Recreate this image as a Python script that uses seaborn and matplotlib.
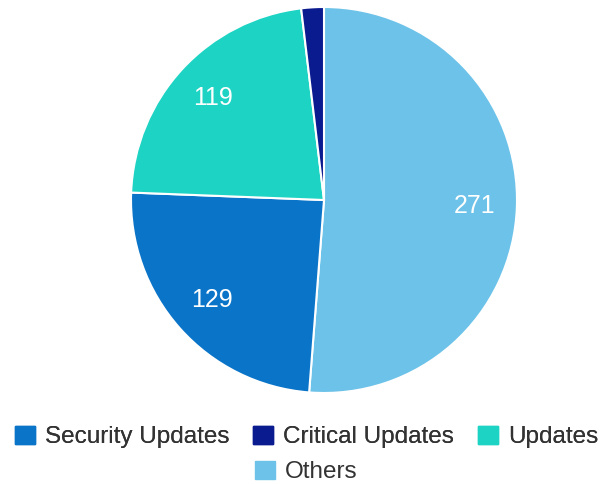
import matplotlib
matplotlib.use("Agg")
import matplotlib.pyplot as plt
import matplotlib.patches as mpatches
import seaborn as sns

# Data (clockwise from 12 o'clock)
categories = ["Others", "Security Updates", "Updates", "Critical Updates"]
counts = [271, 129, 119, 10]
colors = ["#6cc2e8", "#0a74c8", "#1dd3c3", "#0a1a8f"]

# legend order as in the picture
legend_order = ["Security Updates", "Critical Updates", "Updates", "Others"]

sns.set_style("white")
plt.rcParams["font.family"] = ["Liberation Sans", "DejaVu Sans"]

fig = plt.figure(figsize=(6.13, 4.84), dpi=100)
ax = fig.add_axes([131 / 613, 91 / 484, 386 / 613, 386 / 484])

total = sum(counts)


def show_count(pct):
    val = int(round(pct * total / 100.0))
    return str(val) if pct > 5 else ""


wedges, texts, autotexts = ax.pie(
    counts,
    colors=colors,
    startangle=90,
    counterclock=False,
    autopct=show_count,
    pctdistance=0.78,
    wedgeprops=dict(edgecolor="white", linewidth=1.5),
    textprops=dict(color="white", fontsize=18),
)
ax.set_xlim(-1, 1)
ax.set_ylim(-1, 1)
ax.set_aspect("equal")

color_of = dict(zip(categories, colors))
handles = [mpatches.Patch(color=color_of[c], label=c) for c in legend_order]

leg_kw = dict(loc="center", frameon=False, fontsize=17.5, handlelength=0.82,
              handleheight=0.82, handletextpad=0.4, columnspacing=1.0,
              labelcolor="#333333", borderpad=0, borderaxespad=0)
leg1 = fig.legend(handles=handles[:3], bbox_to_anchor=(0.5, 1 - 437 / 484), ncol=3, **leg_kw)
fig.add_artist(leg1)
fig.legend(handles=handles[3:], bbox_to_anchor=(0.5, 1 - 472 / 484), ncol=1, **leg_kw)

fig.savefig("out.png", dpi=100)
